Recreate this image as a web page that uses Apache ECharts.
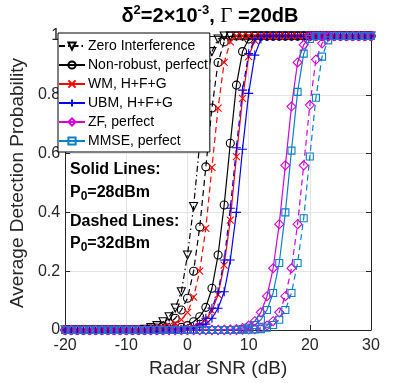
<!DOCTYPE html>
<html>
<head>
<meta charset="utf-8">
<script src="https://cdn.jsdelivr.net/npm/echarts@6/dist/echarts.min.js"></script>
<style>
  html, body { margin: 0; padding: 0; background: #fff; }
  #main { width: 409px; height: 383px; }
</style>
</head>
<body>
<div id="main"></div>
<script>
// x轴：雷达信噪比 (dB)
let snr = [-20, -19, -18, -17, -16, -15, -14, -13, -12, -11,
           -10, -9, -8, -7, -6, -5, -4, -3, -2, -1,
           0, 1, 2, 3, 4, 5, 6, 7, 8, 9,
           10, 11, 12, 13, 14, 15, 16, 17, 18, 19,
           20, 21, 22, 23, 24, 25, 26, 27, 28, 29,
           30];

let zeroInt = [0, 0, 0, 0, 0, 0, 0, 0, 0, 0,
               0, 0, 0, 0.002, 0.008, 0.015, 0.028, 0.045, 0.075, 0.13,
               0.255, 0.42, 0.635, 0.833, 0.947, 0.99, 1, 1, 1, 1,
               1, 1, 1, 1, 1, 1, 1, 1, 1, 1,
               1, 1, 1, 1, 1, 1, 1, 1, 1, 1,
               1];
// 实线 P0=28dBm
let nr28 = [0, 0, 0, 0, 0, 0, 0, 0, 0, 0,
            0, 0, 0, 0, 0, 0, 0, 0.002, 0.005, 0.009,
            0.015, 0.028, 0.045, 0.077, 0.142, 0.255, 0.425, 0.635, 0.833, 0.947,
            0.99, 1, 1, 1, 1, 1, 1, 1, 1, 1,
            1, 1, 1, 1, 1, 1, 1, 1, 1, 1,
            1];
let wm28 = [0, 0, 0, 0, 0, 0, 0, 0, 0, 0,
            0, 0, 0, 0, 0, 0, 0, 0, 0.001, 0.002,
            0.004, 0.008, 0.018, 0.035, 0.065, 0.12, 0.221, 0.374, 0.59, 0.788,
            0.93, 0.985, 1, 1, 1, 1, 1, 1, 1, 1,
            1, 1, 1, 1, 1, 1, 1, 1, 1, 1,
            1];
let ubm28 = [0, 0, 0, 0, 0, 0, 0, 0, 0, 0,
             0, 0, 0, 0, 0, 0, 0, 0, 0, 0.001,
             0.002, 0.004, 0.01, 0.02, 0.04, 0.074, 0.13, 0.238, 0.4, 0.615,
             0.805, 0.935, 0.99, 1, 1, 1, 1, 1, 1, 1,
             1, 1, 1, 1, 1, 1, 1, 1, 1, 1,
             1];
let zf28 = [0, 0, 0, 0, 0, 0, 0, 0, 0, 0,
            0, 0, 0, 0, 0, 0, 0, 0, 0, 0,
            0, 0, 0, 0, 0, 0, 0.001, 0.002, 0.003, 0.007,
            0.015, 0.03, 0.06, 0.115, 0.21, 0.36, 0.56, 0.76, 0.91, 0.97,
            1, 1, 1, 1, 1, 1, 1, 1, 1, 1,
            1];
let mmse28 = [0, 0, 0, 0, 0, 0, 0, 0, 0, 0,
              0, 0, 0, 0, 0, 0, 0, 0, 0, 0,
              0, 0, 0, 0, 0, 0, 0, 0, 0.001, 0.003,
              0.008, 0.017, 0.035, 0.068, 0.126, 0.228, 0.4, 0.61, 0.81, 0.94,
              0.99, 1, 1, 1, 1, 1, 1, 1, 1, 1,
              1];
// 虚线 P0=32dBm
let nr32 = [0, 0, 0, 0, 0, 0, 0, 0, 0, 0,
            0, 0, 0, 0, 0.003, 0.007, 0.013, 0.022, 0.04, 0.068,
            0.108, 0.2, 0.35, 0.555, 0.755, 0.91, 0.98, 1, 1, 1,
            1, 1, 1, 1, 1, 1, 1, 1, 1, 1,
            1, 1, 1, 1, 1, 1, 1, 1, 1, 1,
            1];
let wm32 = [0, 0, 0, 0, 0, 0, 0, 0, 0, 0,
            0, 0, 0, 0, 0.002, 0.004, 0.008, 0.014, 0.022, 0.035,
            0.06, 0.112, 0.2, 0.346, 0.553, 0.755, 0.91, 0.98, 1, 1,
            1, 1, 1, 1, 1, 1, 1, 1, 1, 1,
            1, 1, 1, 1, 1, 1, 1, 1, 1, 1,
            1];
let ubm32 = [0, 0, 0, 0, 0, 0, 0, 0, 0, 0,
             0, 0, 0, 0, 0, 0, 0, 0, 0.001, 0.002,
             0.004, 0.01, 0.02, 0.04, 0.074, 0.13, 0.238, 0.414, 0.62, 0.816,
             0.94, 0.99, 1, 1, 1, 1, 1, 1, 1, 1,
             1, 1, 1, 1, 1, 1, 1, 1, 1, 1,
             1];
let zf32 = [0, 0, 0, 0, 0, 0, 0, 0, 0, 0,
            0, 0, 0, 0, 0, 0, 0, 0, 0, 0,
            0, 0, 0, 0, 0, 0, 0, 0, 0, 0.001,
            0.002, 0.003, 0.007, 0.015, 0.03, 0.06, 0.115, 0.21, 0.36, 0.56,
            0.765, 0.92, 0.975, 1, 1, 1, 1, 1, 1, 1,
            1];
let mmse32 = [0, 0, 0, 0, 0, 0, 0, 0, 0, 0,
              0, 0, 0, 0, 0, 0, 0, 0, 0, 0,
              0, 0, 0, 0, 0, 0, 0, 0, 0, 0.001,
              0.001, 0.002, 0.003, 0.008, 0.017, 0.035, 0.068, 0.126, 0.228, 0.38,
              0.59, 0.79, 0.93, 0.985, 1, 1, 1, 1, 1, 1,
              1];

let myChart = echarts.init(document.getElementById('main'));

let font = '"Liberation Sans", Arial, sans-serif';
let dashed = [6, 4];
let dashDot = [6, 3, 1.5, 3];

// 标记形状
let triDown = 'path://M0,0 L10,0 L5,9 Z';
let xMark = 'path://M0,0 L10,10 M10,0 L0,10';
let plusMark = 'path://M5,0 L5,10 M0,5 L10,5';

function mk(name, vals, color, lineType, symbol, size) {
    return {
        name: name,
        type: 'line',
        data: snr.map((x, i) => [x, vals[i]]),
        symbol: symbol,
        symbolSize: size,
        showAllSymbol: true,
        lineStyle: { color: color, width: 1.2, type: lineType },
        itemStyle: { color: 'rgba(0,0,0,0)', borderColor: color, borderWidth: 1.1 },
        emphasis: { disabled: true },
        z: 2
    };
}

let black = '#000000', red = '#ff0000', blue = '#0000ff', mag = '#d600d6', cyanBlue = '#0a7fca';

let option = {
    animation: false,
    backgroundColor: '#fff',
    grid: { left: 57, right: 38, top: 36, bottom: 53 },
    legend: {
        orient: 'vertical',
        left: 58,
        top: 33,
        padding: [6, 2, 4, 0],
        itemGap: 5,
        itemWidth: 26,
        itemHeight: 9,
        backgroundColor: '#fff',
        borderColor: '#000',
        borderWidth: 1,
        borderRadius: 0,
        textStyle: { fontFamily: font, fontSize: 14, color: '#000', padding: [0, 0, 0, -2] },
        data: ['Zero Interference', 'Non-robust, perfect', 'WM, H+F+G', 'UBM, H+F+G', 'ZF, perfect', 'MMSE, perfect'],
        z: 10
    },
    xAxis: [{
        type: 'value',
        min: -20, max: 30, interval: 10,
        name: 'Radar SNR (dB)',
        nameLocation: 'middle',
        nameGap: 29,
        nameTextStyle: { fontFamily: font, fontSize: 19, color: '#262626' },
        axisLine: { show: true, onZero: false, lineStyle: { color: '#262626', width: 1 } },
        axisTick: { show: true, inside: true, length: 5, lineStyle: { color: '#262626' } },
        axisLabel: { fontFamily: font, fontSize: 16, color: '#262626', margin: 8 },
        splitLine: { show: true, lineStyle: { color: '#e3e3e3', width: 1 } }
    }, {
        type: 'value', position: 'top',
        min: -20, max: 30, interval: 10,
        axisLine: { show: true, onZero: false, lineStyle: { color: '#262626', width: 1 } },
        axisTick: { show: true, inside: true, length: 5, lineStyle: { color: '#262626' } },
        axisLabel: { show: false },
        splitLine: { show: false }
    }],
    yAxis: [{
        type: 'value',
        min: 0, max: 1, interval: 0.2,
        name: 'Average Detection Probability',
        nameLocation: 'middle',
        nameGap: 33,
        nameTextStyle: { fontFamily: font, fontSize: 19, color: '#262626' },
        axisLine: { show: true, onZero: false, lineStyle: { color: '#262626', width: 1 } },
        axisTick: { show: true, inside: true, length: 5, lineStyle: { color: '#262626' } },
        axisLabel: { fontFamily: font, fontSize: 16, color: '#262626', margin: 5 },
        splitLine: { show: true, lineStyle: { color: '#e3e3e3', width: 1 } }
    }, {
        type: 'value', position: 'right',
        min: 0, max: 1, interval: 0.2,
        axisLine: { show: true, onZero: false, lineStyle: { color: '#262626', width: 1 } },
        axisTick: { show: true, inside: true, length: 5, lineStyle: { color: '#262626' } },
        axisLabel: { show: false },
        splitLine: { show: false }
    }],
    graphic: [
        {
            type: 'text', x: 210, y: 16, z: 20,
            style: {
                text: '{b|δ}{s|2}{b|=2×10}{s|-3}{b|, }{g|Γ}{b| =20dB}',
                align: 'center', verticalAlign: 'middle',
                rich: {
                    b: { fontFamily: font, fontSize: 20, fontWeight: 'bold', fill: '#000', lineHeight: 24 },
                    g: { fontFamily: '"Liberation Serif", serif', fontSize: 21, fill: '#000', lineHeight: 24 },
                    s: { fontFamily: font, fontSize: 13, fontWeight: 'bold', fill: '#000', lineHeight: 24, padding: [0, 0, 12, 0] }
                }
            }
        },
        { type: 'text', x: 70, y: 170, z: 20,
          style: { text: 'Solid Lines:', verticalAlign: 'middle', fontFamily: font, fontSize: 16, fontWeight: 'bold', fill: '#000' } },
        { type: 'text', x: 70, y: 193, z: 20,
          style: { text: '{a|P}{u|0}{a|=28dBm}', verticalAlign: 'middle',
                   rich: {
                       a: { fontFamily: font, fontSize: 16, fontWeight: 'bold', fill: '#000', lineHeight: 20 },
                       u: { fontFamily: font, fontSize: 12, fontWeight: 'bold', fill: '#000', lineHeight: 20, padding: [8, 0, 0, 0] }
                   } } },
        { type: 'text', x: 70, y: 222, z: 20,
          style: { text: 'Dashed Lines:', verticalAlign: 'middle', fontFamily: font, fontSize: 16, fontWeight: 'bold', fill: '#000' } },
        { type: 'text', x: 70, y: 244, z: 20,
          style: { text: '{a|P}{u|0}{a|=32dBm}', verticalAlign: 'middle',
                   rich: {
                       a: { fontFamily: font, fontSize: 16, fontWeight: 'bold', fill: '#000', lineHeight: 20 },
                       u: { fontFamily: font, fontSize: 12, fontWeight: 'bold', fill: '#000', lineHeight: 20, padding: [8, 0, 0, 0] }
                   } } }
    ],
    series: [
        mk('Zero Interference', zeroInt, black, dashDot, triDown, 8),
        mk('Non-robust, perfect', nr28, black, 'solid', 'circle', 8),
        mk('WM, H+F+G', wm28, red, 'solid', xMark, 7),
        mk('UBM, H+F+G', ubm28, blue, 'solid', plusMark, 9),
        mk('Non-robust, perfect', nr32, black, dashed, 'circle', 8),
        mk('WM, H+F+G', wm32, red, dashed, xMark, 7),
        mk('UBM, H+F+G', ubm32, blue, dashed, plusMark, 9),
        mk('ZF, perfect', zf28, mag, 'solid', 'diamond', 9),
        mk('MMSE, perfect', mmse28, cyanBlue, 'solid', 'rect', 7),
        mk('ZF, perfect', zf32, mag, dashed, 'diamond', 9),
        mk('MMSE, perfect', mmse32, cyanBlue, dashed, 'rect', 7)
    ]
};

myChart.setOption(option);
</script>
</body>
</html>
